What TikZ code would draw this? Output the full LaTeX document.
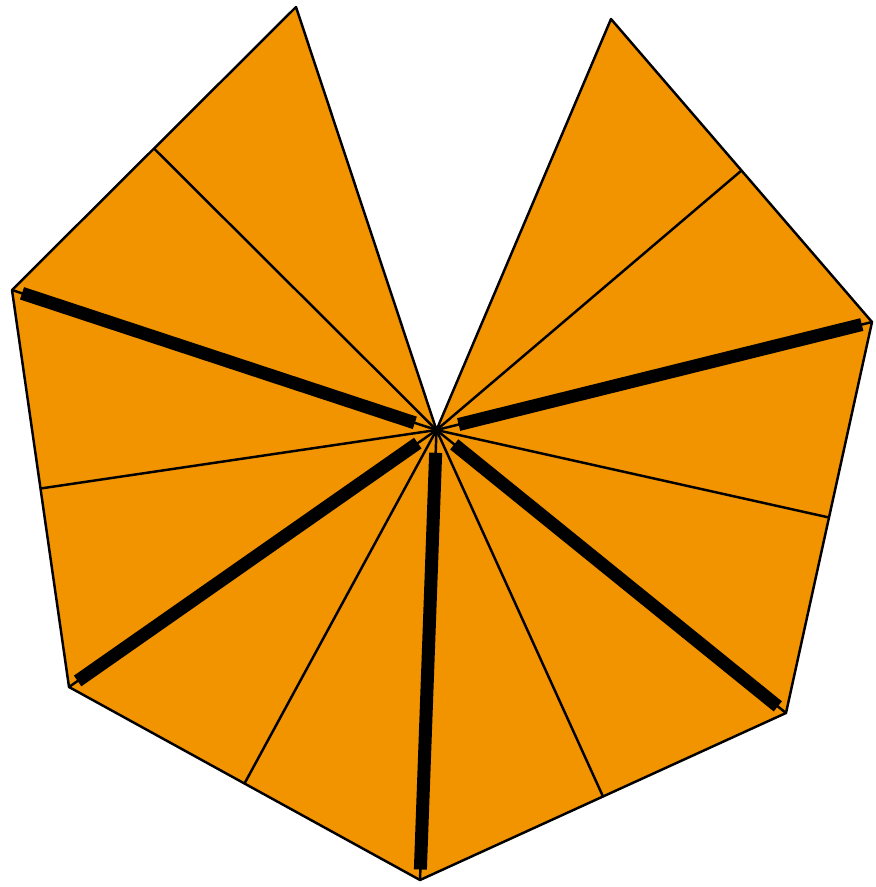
\documentclass[tikz,border=0pt]{standalone}
\usetikzlibrary{calc}
\definecolor{fanorange}{RGB}{242,147,0}
\begin{document}
\begin{tikzpicture}[x=0.02cm,y=-0.02cm,line join=round,
 rib/.style={line width=1.4pt},
 spoke/.style={line width=7.4pt,shorten <=13pt,shorten >=6pt}]
 \useasboundingbox (0,0) rectangle (876,887);
 \coordinate (O) at (436.5,430);
 \coordinate (A) at (296,7); \coordinate (B) at (12,290);
 \coordinate (C) at (69,687); \coordinate (D) at (420,880);
 \coordinate (E) at (786,713); \coordinate (F) at (872,322);
 \coordinate (G) at (611,19);
 \filldraw[fill=fanorange,rib] (O)--(A)--(B)--(C)--(D)--(E)--(F)--(G)--cycle;
 \foreach \p/\q in {A/B,B/C,C/D,D/E,E/F,F/G} \draw[rib] (O)--($(\p)!0.5!(\q)$);
 \foreach \p in {B,C,D,E,F} {\draw[rib] (O)--(\p); \draw[spoke] (O)--(\p);}
\end{tikzpicture}
\end{document}
